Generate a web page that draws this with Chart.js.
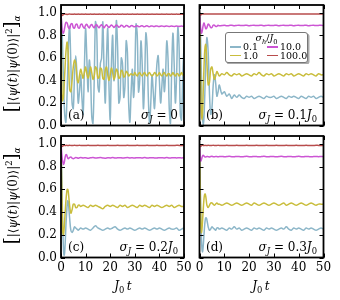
<!DOCTYPE html>
<html>
<head>
<meta charset="utf-8">
<script src="https://cdn.jsdelivr.net/npm/chart.js@4.4.0/dist/chart.umd.min.js"></script>
<style>
  html, body { margin: 0; padding: 0; background: #fff; }
  #wrap { position: relative; width: 340px; height: 300px; overflow: hidden; font-family: 'DejaVu Serif', serif; color: #000; }
  #wrap canvas { position: absolute; left: 0; top: 0; }
  .txt { position: absolute; white-space: nowrap; font-size: 12px; line-height: 12px; }
  .ylab { position: absolute; white-space: nowrap; font-size: 12px; line-height: 12px; transform: translate(-50%, -50%) rotate(-90deg); }
  .ylab .br { font-size: 18px; }
  .xlab { position: absolute; white-space: nowrap; font-size: 12px; line-height: 12px; transform: translate(-50%, -50%); }
  sub, sup { font-size: 0.7em; line-height: 0; }
  #legend { position: absolute; left: 225px; top: 31.5px; width: 83px; height: 31px; box-sizing: border-box;
            background: #fff; border: 1px solid #777; border-radius: 3px; box-shadow: 1.5px 1.5px 0 #aaa;
            font-size: 9.5px; line-height: 10px; }
  #legend .ttl { position: absolute; left: 0; right: 0; top: 0px; text-align: center; }
  #legend .sw { position: absolute; width: 11px; height: 1.6px; }
  #legend .lb { position: absolute; white-space: nowrap; }
</style>
</head>
<body>
<div id="wrap">
  <canvas id="ca" width="340" height="300"></canvas>
  <canvas id="cb" width="340" height="300"></canvas>
  <canvas id="cc" width="340" height="300"></canvas>
  <canvas id="cd" width="340" height="300"></canvas>

  <div class="ylab" style="left:12px; top:64px;"><span class="br">[</span>|⟨<i>ψ</i>(<i>t</i>)|<i>ψ</i>(0)⟩|<sup>2</sup><span class="br">]</span><sub><i>α</i></sub></div>
  <div class="ylab" style="left:12px; top:196px;"><span class="br">[</span>|⟨<i>ψ</i>(<i>t</i>)|<i>ψ</i>(0)⟩|<sup>2</sup><span class="br">]</span><sub><i>α</i></sub></div>

  <div class="xlab" style="left:123px; top:286px;"><i>J</i><sub>0</sub>&#8201;<i>t</i></div>
  <div class="xlab" style="left:261px; top:286px;"><i>J</i><sub>0</sub>&#8201;<i>t</i></div>

  <div id="notes"></div>

  <div id="legend">
    <div class="ttl"><i>σ</i><sub><i>h</i></sub>/<i>J</i><sub>0</sub></div>
  </div>
</div>
<script>
// time grids
const T_A = [0,0.5,1,1.5,2,2.5,3,3.5,4,4.5,
  5,5.5,6,6.5,7,7.5,8,8.5,9,9.5,
  10,10.5,11,11.5,12,12.5,13,13.5,14,14.5,
  15,15.5,16,16.5,17,17.5,18,18.5,19,19.5,
  20,20.5,21,21.5,22,22.5,23,23.5,24,24.5,
  25,25.5,26,26.5,27,27.5,28,28.5,29,29.5,
  30,30.5,31,31.5,32,32.5,33,33.5,34,34.5,
  35,35.5,36,36.5,37,37.5,38,38.5,39,39.5,
  40,40.5,41,41.5,42,42.5,43,43.5,44,44.5,
  45,45.5,46,46.5,47,47.5,48,48.5,49,49.5,
  50];
const T_B = [0,0.25,0.5,0.75,1,1.25,1.5,1.75,2,2.25,2.5,2.75,3,
  3.5,4,4.5,5,5.5,6,6.5,7,7.5,8,
  9,10,11,12,13,14,15,16,17,18,19,20,21,22,23,24,25,26,27,28,29,30,
  31,32,33,34,35,36,37,38,39,40,41,42,43,44,45,46,47,48,49,50];

// (a) sigma_J = 0
const A_BLUE = [1.00,0.80,0.40,0.10,0.03,0.30,0.70,0.88,0.55,0.20,
  0.15,0.45,0.62,0.45,0.20,0.30,0.45,0.25,0.10,0.50,
  0.86,0.60,0.30,0.58,0.45,0.08,0.02,0.40,0.92,0.85,
  0.35,0.30,0.55,0.60,0.92,0.50,0.20,0.60,0.86,0.35,
  0.05,0.55,0.80,0.40,0.50,0.93,0.70,0.20,0.25,0.60,
  0.55,0.25,0.35,0.75,0.65,0.20,0.03,0.30,0.50,0.25,
  0.45,0.90,0.80,0.30,0.40,0.75,0.55,0.15,0.40,0.82,
  0.70,0.25,0.02,0.20,0.45,0.30,0.15,0.35,0.55,0.62,
  0.40,0.20,0.35,0.50,0.30,0.45,0.75,0.60,0.15,0.02,
  0.50,0.82,0.55,0.20,0.45,0.87,0.70,0.10,0.05,0.45,
  0.70];
const A_YELLOW = [1.00,0.22,0.25,0.45,0.65,0.74,0.60,0.32,0.30,0.40,
  0.52,0.58,0.55,0.42,0.38,0.44,0.50,0.46,0.42,0.47,
  0.52,0.46,0.42,0.46,0.52,0.47,0.41,0.44,0.52,0.50,
  0.42,0.43,0.51,0.50,0.42,0.41,0.49,0.52,0.45,0.40,
  0.45,0.51,0.47,0.41,0.44,0.50,0.48,0.42,0.43,0.49,
  0.48,0.43,0.44,0.48,0.47,0.44,0.45,0.46,0.45,0.45,
  0.47,0.45,0.44,0.46,0.47,0.45,0.44,0.46,0.47,0.45,
  0.44,0.46,0.47,0.45,0.44,0.45,0.47,0.46,0.44,0.45,
  0.47,0.45,0.44,0.46,0.47,0.45,0.44,0.46,0.46,0.44,
  0.45,0.47,0.45,0.44,0.46,0.46,0.44,0.45,0.47,0.45,
  0.45];
const A_MAGENTA = [1.00,0.84,0.82,0.87,0.915,0.91,0.87,0.86,0.90,0.905,
  0.87,0.865,0.895,0.90,0.87,0.865,0.895,0.90,0.875,0.865,
  0.89,0.898,0.878,0.866,0.888,0.897,0.878,0.868,0.888,0.896,
  0.878,0.868,0.886,0.895,0.88,0.868,0.884,0.894,0.882,0.87,
  0.882,0.893,0.884,0.871,0.88,0.892,0.886,0.872,0.878,0.89,
  0.887,0.874,0.877,0.888,0.887,0.876,0.877,0.886,0.887,0.878,
  0.877,0.884,0.886,0.879,0.878,0.884,0.885,0.879,0.878,0.883,
  0.885,0.88,0.878,0.883,0.884,0.88,0.879,0.883,0.884,0.88,
  0.879,0.882,0.884,0.881,0.879,0.882,0.884,0.881,0.879,0.882,
  0.883,0.881,0.879,0.882,0.883,0.881,0.88,0.882,0.883,0.881,
  0.881];
const A_RED = [1.00,0.978,0.985,0.99,0.988,0.986,0.988,0.99,0.988,0.987,
  0.988,0.989,0.987,0.988,0.989,0.988,0.987,0.989,0.988,0.987,
  0.989,0.988,0.987,0.988,0.989,0.988,0.987,0.989,0.988,0.988,
  0.987,0.989,0.988,0.987,0.988,0.989,0.988,0.987,0.989,0.988,
  0.988,0.987,0.989,0.988,0.987,0.988,0.989,0.988,0.987,0.988,
  0.989,0.988,0.987,0.988,0.989,0.988,0.988,0.987,0.989,0.988,
  0.987,0.988,0.989,0.988,0.987,0.988,0.989,0.988,0.988,0.987,
  0.989,0.988,0.987,0.988,0.989,0.988,0.987,0.988,0.989,0.988,
  0.988,0.987,0.989,0.988,0.987,0.988,0.989,0.988,0.987,0.988,
  0.989,0.988,0.987,0.988,0.989,0.988,0.988,0.987,0.989,0.988,
  0.988];

// (b) sigma_J = 0.1 J0
const B_BLUE = [1.00,0.92,0.72,0.45,0.20,0.06,0.01,0.05,0.18,0.36,0.55,0.70,0.78,
  0.65,0.30,0.10,0.15,0.35,0.45,0.38,0.26,0.30,0.36,
  0.28,0.30,0.26,0.28,0.24,0.27,0.25,0.27,0.25,0.24,
  0.26,0.25,0.26,0.24,0.25,0.26,0.25,0.24,0.26,0.25,
  0.25,0.26,0.24,0.25,0.26,0.25,0.24,0.26,0.25,0.26,
  0.25,0.24,0.26,0.25,0.24,0.26,0.25,0.26,0.24,0.25,
  0.26,0.25];
const B_YELLOW = [1.00,0.70,0.35,0.12,0.05,0.12,0.30,0.48,0.62,0.70,0.72,0.66,0.55,
  0.36,0.38,0.50,0.52,0.46,0.41,0.44,0.48,0.46,0.44,
  0.46,0.45,0.47,0.45,0.44,0.46,0.45,0.46,0.44,0.45,
  0.46,0.45,0.44,0.46,0.45,0.47,0.45,0.44,0.46,0.45,
  0.46,0.44,0.45,0.46,0.45,0.44,0.46,0.45,0.46,0.44,
  0.45,0.46,0.45,0.44,0.46,0.45,0.46,0.45,0.44,0.46,
  0.45,0.45];
const B_MAGENTA = [1.00,0.92,0.85,0.82,0.83,0.86,0.89,0.91,0.90,0.88,0.86,0.86,0.87,
  0.90,0.89,0.87,0.87,0.89,0.89,0.88,0.88,0.89,0.885,
  0.887,0.89,0.885,0.888,0.891,0.886,0.889,0.89,0.887,0.889,
  0.891,0.886,0.889,0.89,0.887,0.889,0.891,0.886,0.889,0.89,
  0.887,0.889,0.891,0.886,0.889,0.89,0.887,0.889,0.891,0.886,
  0.889,0.89,0.887,0.889,0.891,0.886,0.889,0.89,0.887,0.889,
  0.89,0.888];
const B_RED = [1.00,0.985,0.982,0.986,0.99,0.991,0.99,0.989,0.99,0.991,0.99,0.989,0.99,
  0.991,0.99,0.989,0.99,0.991,0.99,0.989,0.99,0.991,0.99,
  0.989,0.99,0.991,0.99,0.989,0.99,0.991,0.99,0.989,0.99,
  0.991,0.99,0.989,0.99,0.991,0.99,0.989,0.99,0.991,0.99,
  0.989,0.99,0.991,0.99,0.989,0.99,0.991,0.99,0.989,0.99,
  0.991,0.99,0.989,0.99,0.991,0.99,0.989,0.99,0.991,0.99,
  0.99,0.99];

// (c) sigma_J = 0.2 J0
const C_BLUE = [1.00,0.80,0.50,0.25,0.08,0.02,0.05,0.15,0.28,0.38,0.46,0.50,0.48,
  0.35,0.24,0.22,0.24,0.27,0.26,0.25,0.24,0.25,0.26,
  0.25,0.26,0.25,0.24,0.26,0.28,0.26,0.25,0.24,0.25,
  0.26,0.25,0.26,0.27,0.25,0.24,0.25,0.26,0.25,0.26,
  0.25,0.24,0.25,0.26,0.25,0.26,0.25,0.24,0.25,0.26,
  0.25,0.26,0.25,0.24,0.25,0.26,0.25,0.25,0.26,0.24,
  0.25,0.26];
const C_YELLOW = [1.00,0.70,0.40,0.22,0.20,0.25,0.33,0.42,0.50,0.56,0.60,0.60,0.57,
  0.46,0.39,0.42,0.47,0.47,0.44,0.44,0.46,0.46,0.45,
  0.46,0.45,0.44,0.46,0.45,0.46,0.45,0.44,0.43,0.45,
  0.46,0.45,0.46,0.45,0.44,0.46,0.45,0.46,0.44,0.45,
  0.46,0.45,0.44,0.46,0.45,0.46,0.45,0.44,0.46,0.45,
  0.46,0.45,0.44,0.45,0.46,0.45,0.46,0.44,0.45,0.46,
  0.45,0.45];
const C_MAGENTA = [1.00,0.93,0.87,0.84,0.82,0.83,0.86,0.89,0.905,0.905,0.89,0.875,0.87,
  0.88,0.885,0.875,0.87,0.875,0.88,0.878,0.875,0.878,0.88,
  0.877,0.879,0.875,0.878,0.88,0.876,0.878,0.88,0.877,0.875,
  0.879,0.877,0.88,0.876,0.878,0.879,0.876,0.878,0.88,0.877,
  0.878,0.876,0.879,0.878,0.877,0.88,0.876,0.878,0.879,0.877,
  0.876,0.879,0.878,0.877,0.88,0.876,0.878,0.879,0.877,0.878,
  0.877,0.878];
const C_RED = [1.00,0.982,0.978,0.982,0.986,0.988,0.987,0.986,0.987,0.988,0.987,0.986,0.987,
  0.988,0.987,0.986,0.987,0.988,0.987,0.986,0.987,0.988,0.987,
  0.986,0.987,0.988,0.987,0.986,0.987,0.988,0.987,0.986,0.987,
  0.988,0.987,0.986,0.987,0.988,0.987,0.986,0.987,0.988,0.987,
  0.986,0.987,0.988,0.987,0.986,0.987,0.988,0.987,0.986,0.987,
  0.988,0.987,0.986,0.987,0.988,0.987,0.986,0.987,0.988,0.987,
  0.987,0.987];

// (d) sigma_J = 0.3 J0
const D_BLUE = [1.00,0.72,0.42,0.20,0.07,0.05,0.10,0.18,0.26,0.32,0.35,0.35,0.33,
  0.27,0.24,0.25,0.27,0.26,0.25,0.24,0.26,0.26,0.25,
  0.26,0.25,0.24,0.26,0.25,0.27,0.25,0.26,0.24,0.25,
  0.26,0.25,0.24,0.26,0.25,0.26,0.25,0.24,0.26,0.25,
  0.26,0.25,0.24,0.25,0.26,0.25,0.27,0.25,0.24,0.26,
  0.25,0.26,0.25,0.24,0.26,0.25,0.26,0.25,0.24,0.25,
  0.26,0.25];
const D_YELLOW = [1.00,0.65,0.35,0.22,0.25,0.33,0.42,0.50,0.55,0.56,0.54,0.50,0.46,
  0.44,0.46,0.48,0.48,0.47,0.46,0.47,0.48,0.47,0.47,
  0.46,0.47,0.48,0.47,0.46,0.47,0.48,0.47,0.46,0.47,
  0.48,0.47,0.46,0.48,0.47,0.46,0.47,0.48,0.47,0.46,
  0.47,0.48,0.47,0.46,0.47,0.48,0.46,0.47,0.48,0.47,
  0.46,0.47,0.48,0.47,0.46,0.47,0.48,0.47,0.46,0.47,
  0.47,0.47];
const D_MAGENTA = [1.00,0.90,0.85,0.86,0.88,0.895,0.90,0.895,0.89,0.885,0.885,0.888,0.89,
  0.888,0.886,0.889,0.891,0.888,0.887,0.89,0.889,0.887,0.889,
  0.89,0.887,0.889,0.891,0.888,0.887,0.89,0.889,0.887,0.889,
  0.891,0.888,0.887,0.89,0.889,0.887,0.889,0.891,0.888,0.887,
  0.89,0.889,0.887,0.889,0.891,0.888,0.887,0.89,0.889,0.887,
  0.889,0.891,0.888,0.887,0.89,0.889,0.887,0.889,0.89,0.888,
  0.889,0.888];
const D_RED = [1.00,0.98,0.978,0.983,0.987,0.988,0.987,0.986,0.987,0.988,0.987,0.986,0.987,
  0.988,0.987,0.986,0.987,0.988,0.987,0.986,0.987,0.988,0.987,
  0.986,0.987,0.988,0.987,0.986,0.987,0.988,0.987,0.986,0.987,
  0.988,0.987,0.986,0.987,0.988,0.987,0.986,0.987,0.988,0.987,
  0.986,0.987,0.988,0.987,0.986,0.987,0.988,0.987,0.986,0.987,
  0.988,0.987,0.986,0.987,0.988,0.987,0.986,0.987,0.988,0.987,
  0.987,0.987];

const SIGMA_H = ['0.1', '1.0', '10.0', '100.0'];
const PANEL_TAGS = ['(a)', '(b)', '(c)', '(d)'];
const SIGMA_J = ['0', '0.1', '0.2', '0.3'];

const COLORS = ['#8cb6c8', '#c9bd3c', '#cc55d4', '#b84c4c'];

Chart.defaults.font.family = "'DejaVu Serif', serif";
Chart.defaults.font.size = 12;
Chart.defaults.color = '#000';

// frame + inward ticks on all four sides (matplotlib look)
const framePlugin = {
  id: 'frame',
  afterDraw(chart) {
    const { ctx, chartArea: a, scales: { x, y } } = chart;
    ctx.save();
    ctx.strokeStyle = '#000';
    ctx.lineWidth = 1;
    ctx.beginPath();
    x.ticks.forEach(t => {
      const px = Math.round(x.getPixelForValue(t.value)) + 0.5;
      ctx.moveTo(px, a.bottom); ctx.lineTo(px, a.bottom - 4);
      ctx.moveTo(px, a.top); ctx.lineTo(px, a.top + 4);
    });
    y.ticks.forEach(t => {
      const py = Math.round(y.getPixelForValue(t.value)) + 0.5;
      ctx.moveTo(a.left, py); ctx.lineTo(a.left + 4, py);
      ctx.moveTo(a.right, py); ctx.lineTo(a.right - 4, py);
    });
    ctx.stroke();
    ctx.lineWidth = 1.8;
    ctx.strokeRect(a.left, a.top, a.right - a.left, a.bottom - a.top);
    ctx.restore();
  }
};

const PANELS = [
  { id: 'ca', t: T_A, series: [A_BLUE, A_YELLOW, A_MAGENTA, A_RED], left: 61, right: 184, top: 5, bottom: 125.5, showX: false, showY: true },
  { id: 'cb', t: T_B, series: [B_BLUE, B_YELLOW, B_MAGENTA, B_RED], left: 199.5, right: 323.5, top: 5, bottom: 125.5, showX: false, showY: false },
  { id: 'cc', t: T_B, series: [C_BLUE, C_YELLOW, C_MAGENTA, C_RED], left: 61, right: 184, top: 136, bottom: 257.5, showX: true, showY: true },
  { id: 'cd', t: T_B, series: [D_BLUE, D_YELLOW, D_MAGENTA, D_RED], left: 199.5, right: 323.5, top: 136, bottom: 257.5, showX: true, showY: false }
];

PANELS.forEach(p => {
  const datasets = p.series.map((vals, i) => ({
    label: SIGMA_H[i],
    data: p.t.map((tt, k) => ({ x: tt, y: vals[k] })),
    borderColor: COLORS[i],
    borderWidth: 1.5,
    pointRadius: 0,
    tension: 0.35,
    order: 4 - i
  }));
  new Chart(document.getElementById(p.id), {
    type: 'line',
    data: { datasets },
    plugins: [framePlugin],
    options: {
      responsive: false,
      animation: false,
      events: [],
      layout: {
        padding: {
          left: p.showY ? 0 : p.left,
          right: 340 - p.right,
          top: p.top,
          bottom: p.showX ? 0 : 300 - p.bottom
        }
      },
      plugins: { legend: { display: false }, tooltip: { enabled: false } },
      scales: {
        x: {
          type: 'linear', min: 0, max: 50,
          grid: { display: false, drawTicks: false },
          border: { display: false },
          ticks: { display: p.showX, stepSize: 10, padding: 3, maxRotation: 0, autoSkip: false,
                   callback: v => String(v) },
          afterFit: s => { s.height = p.showX ? 300 - p.bottom : 0; s.paddingLeft = 0; s.paddingRight = 0; }
        },
        y: {
          type: 'linear', min: 0, max: 1.07,
          grid: { display: false, drawTicks: false },
          border: { display: false },
          ticks: { display: p.showY, stepSize: 0.2, includeBounds: false, padding: 4,
                   callback: v => v.toFixed(1) },
          afterFit: s => { s.width = p.showY ? p.left : 0; s.paddingTop = 0; s.paddingBottom = 0; }
        }
      }
    }
  });
});

// panel annotations
const NOTE_POS = [
  { tagL: 68, sigR: 162, top: 109 },
  { tagL: 206, sigR: 23, top: 109 },
  { tagL: 68, sigR: 162, top: 241 },
  { tagL: 206, sigR: 23, top: 241 }
];
const notes = document.getElementById('notes');
NOTE_POS.forEach((n, i) => {
  const tag = document.createElement('div');
  tag.className = 'txt';
  tag.style.left = n.tagL + 'px';
  tag.style.top = n.top + 'px';
  tag.textContent = PANEL_TAGS[i];
  notes.appendChild(tag);
  const sig = document.createElement('div');
  sig.className = 'txt';
  sig.style.right = n.sigR + 'px';
  sig.style.top = n.top + 'px';
  const val = SIGMA_J[i] === '0' ? '0' : SIGMA_J[i] + '<i>J</i><sub>0</sub>';
  sig.innerHTML = '<i>σ</i><sub><i>J</i></sub> = ' + val;
  notes.appendChild(sig);
});

// legend (two columns: 0.1 / 1.0, 10.0 / 100.0)
const legend = document.getElementById('legend');
const LEG_POS = [[4, 14.5], [4, 23], [41, 14.5], [41, 23]];
SIGMA_H.forEach((lab, i) => {
  const [lx, ly] = LEG_POS[i];
  const sw = document.createElement('div');
  sw.className = 'sw';
  sw.style.left = lx + 'px';
  sw.style.top = (ly - 0.8) + 'px';
  sw.style.background = COLORS[i];
  legend.appendChild(sw);
  const lb = document.createElement('div');
  lb.className = 'lb';
  lb.style.left = (lx + 13) + 'px';
  lb.style.top = (ly - 5) + 'px';
  lb.textContent = lab;
  legend.appendChild(lb);
});
</script>
</body>
</html>
